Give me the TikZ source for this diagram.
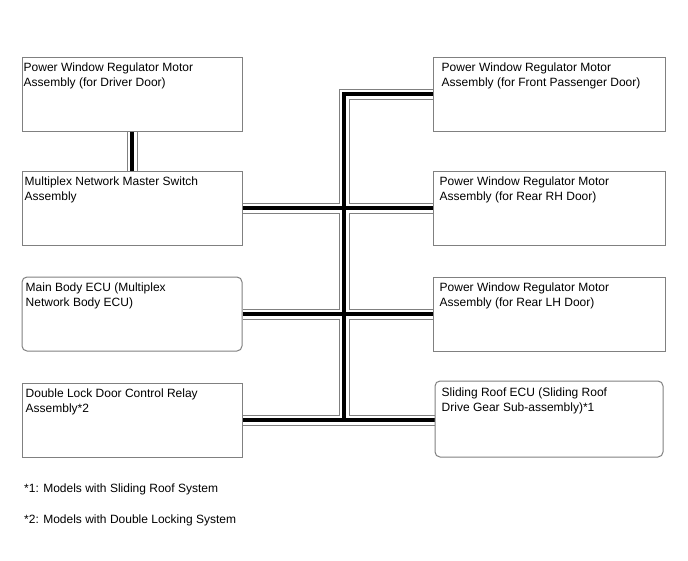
\documentclass[tikz,border=0pt]{standalone}
\usepackage{fontspec}
\setmainfont{Liberation Sans}
\usetikzlibrary{positioning,calc,backgrounds}
\definecolor{edge}{HTML}{808080}
\definecolor{core}{HTML}{000000}
\tikzset{
  unit/.style={draw=edge,line width=1pt,minimum width=220pt,minimum height=74pt,inner sep=0},
  wideunit/.style={unit,minimum width=232pt},
  roundunit/.style={unit,rounded corners=5pt},
  txt/.style={anchor=north west,align=left,inner sep=0,font=\fontsize{12}{15}\selectfont},
  note/.style={anchor=west,inner sep=0,font=\fontsize{12}{15}\selectfont},
  cableout/.style={draw=edge,line width=11pt},
  cablegap/.style={draw=white,line width=9pt},
  cablecore/.style={draw=core,line width=4.5pt}}
% every cable run, drawn once per layer
\newcommand\cableruns[1]{%
  \draw[#1] (drv.south) -- (msw.north);
  \draw[#1] (msw.east) -- (msw.east -| rrh.west);
  \draw[#1] (body.east) -- (body.east -| rlh.west);
  \draw[#1] (dlk.east) -- (dlk.east -| roof.west);
  \draw[#1] (fps.west) -| (busend);}

\begin{document}
\begin{tikzpicture}[x=1pt,y=-1pt]
  \useasboundingbox (0,0) rectangle (688,560);
  % left column
  \node[unit] (drv) at (132,94) {};
  \node[txt] (drvT) at ([xshift=2pt,yshift=-6pt]drv.north west) {Power Window Regulator Motor\\Assembly (for Driver Door)};
  \node[unit] (msw) at (132,208) {};
  \node[txt] (mswT) at ([xshift=3pt,yshift=-6pt]msw.north west) {Multiplex Network Master Switch\\Assembly};
  \node[roundunit] (body) at (132,314) {};
  \node[txt] (bodyT) at ([xshift=4pt,yshift=-6pt]body.north west) {Main Body ECU (Multiplex\\Network Body ECU)};
  \node[unit] (dlk) at (132,420) {};
  \node[txt] (dlkT) at ([xshift=4pt,yshift=-6pt]dlk.north west) {Double Lock Door Control Relay\\Assembly*2};
  % right column
  \node[wideunit] (fps) at (549,94) {};
  \node[txt] (fpsT) at ([xshift=9pt,yshift=-6pt]fps.north west) {Power Window Regulator Motor\\Assembly (for Front Passenger Door)};
  \node[wideunit] (rrh) at (549,208) {};
  \node[txt] (rrhT) at ([xshift=7pt,yshift=-6pt]rrh.north west) {Power Window Regulator Motor\\Assembly (for Rear RH Door)};
  \node[wideunit] (rlh) at (549,314) {};
  \node[txt] (rlhT) at ([xshift=7pt,yshift=-6pt]rlh.north west) {Power Window Regulator Motor\\Assembly (for Rear LH Door)};
  \node[roundunit,minimum width=228pt,minimum height=76pt] (roof) at (549,419) {};
  \node[txt] (roofT) at ([xshift=7pt,yshift=-7pt]roof.north west) {Sliding Roof ECU (Sliding Roof\\Drive Gear Sub-assembly)*1};
  \coordinate (busend) at (344,420);
  % the bus, outline then gap then core
  \begin{scope}[on background layer]
    \cableruns{cableout}
    \cableruns{cablegap}
    \cableruns{cablecore}
  \end{scope}
  % notes
  \node[note] (n1) at (24,489) {*1: Models with Sliding Roof System};
  \node[note] (n2) at (24,520) {*2: Models with Double Locking System};
\end{tikzpicture}
\end{document}
